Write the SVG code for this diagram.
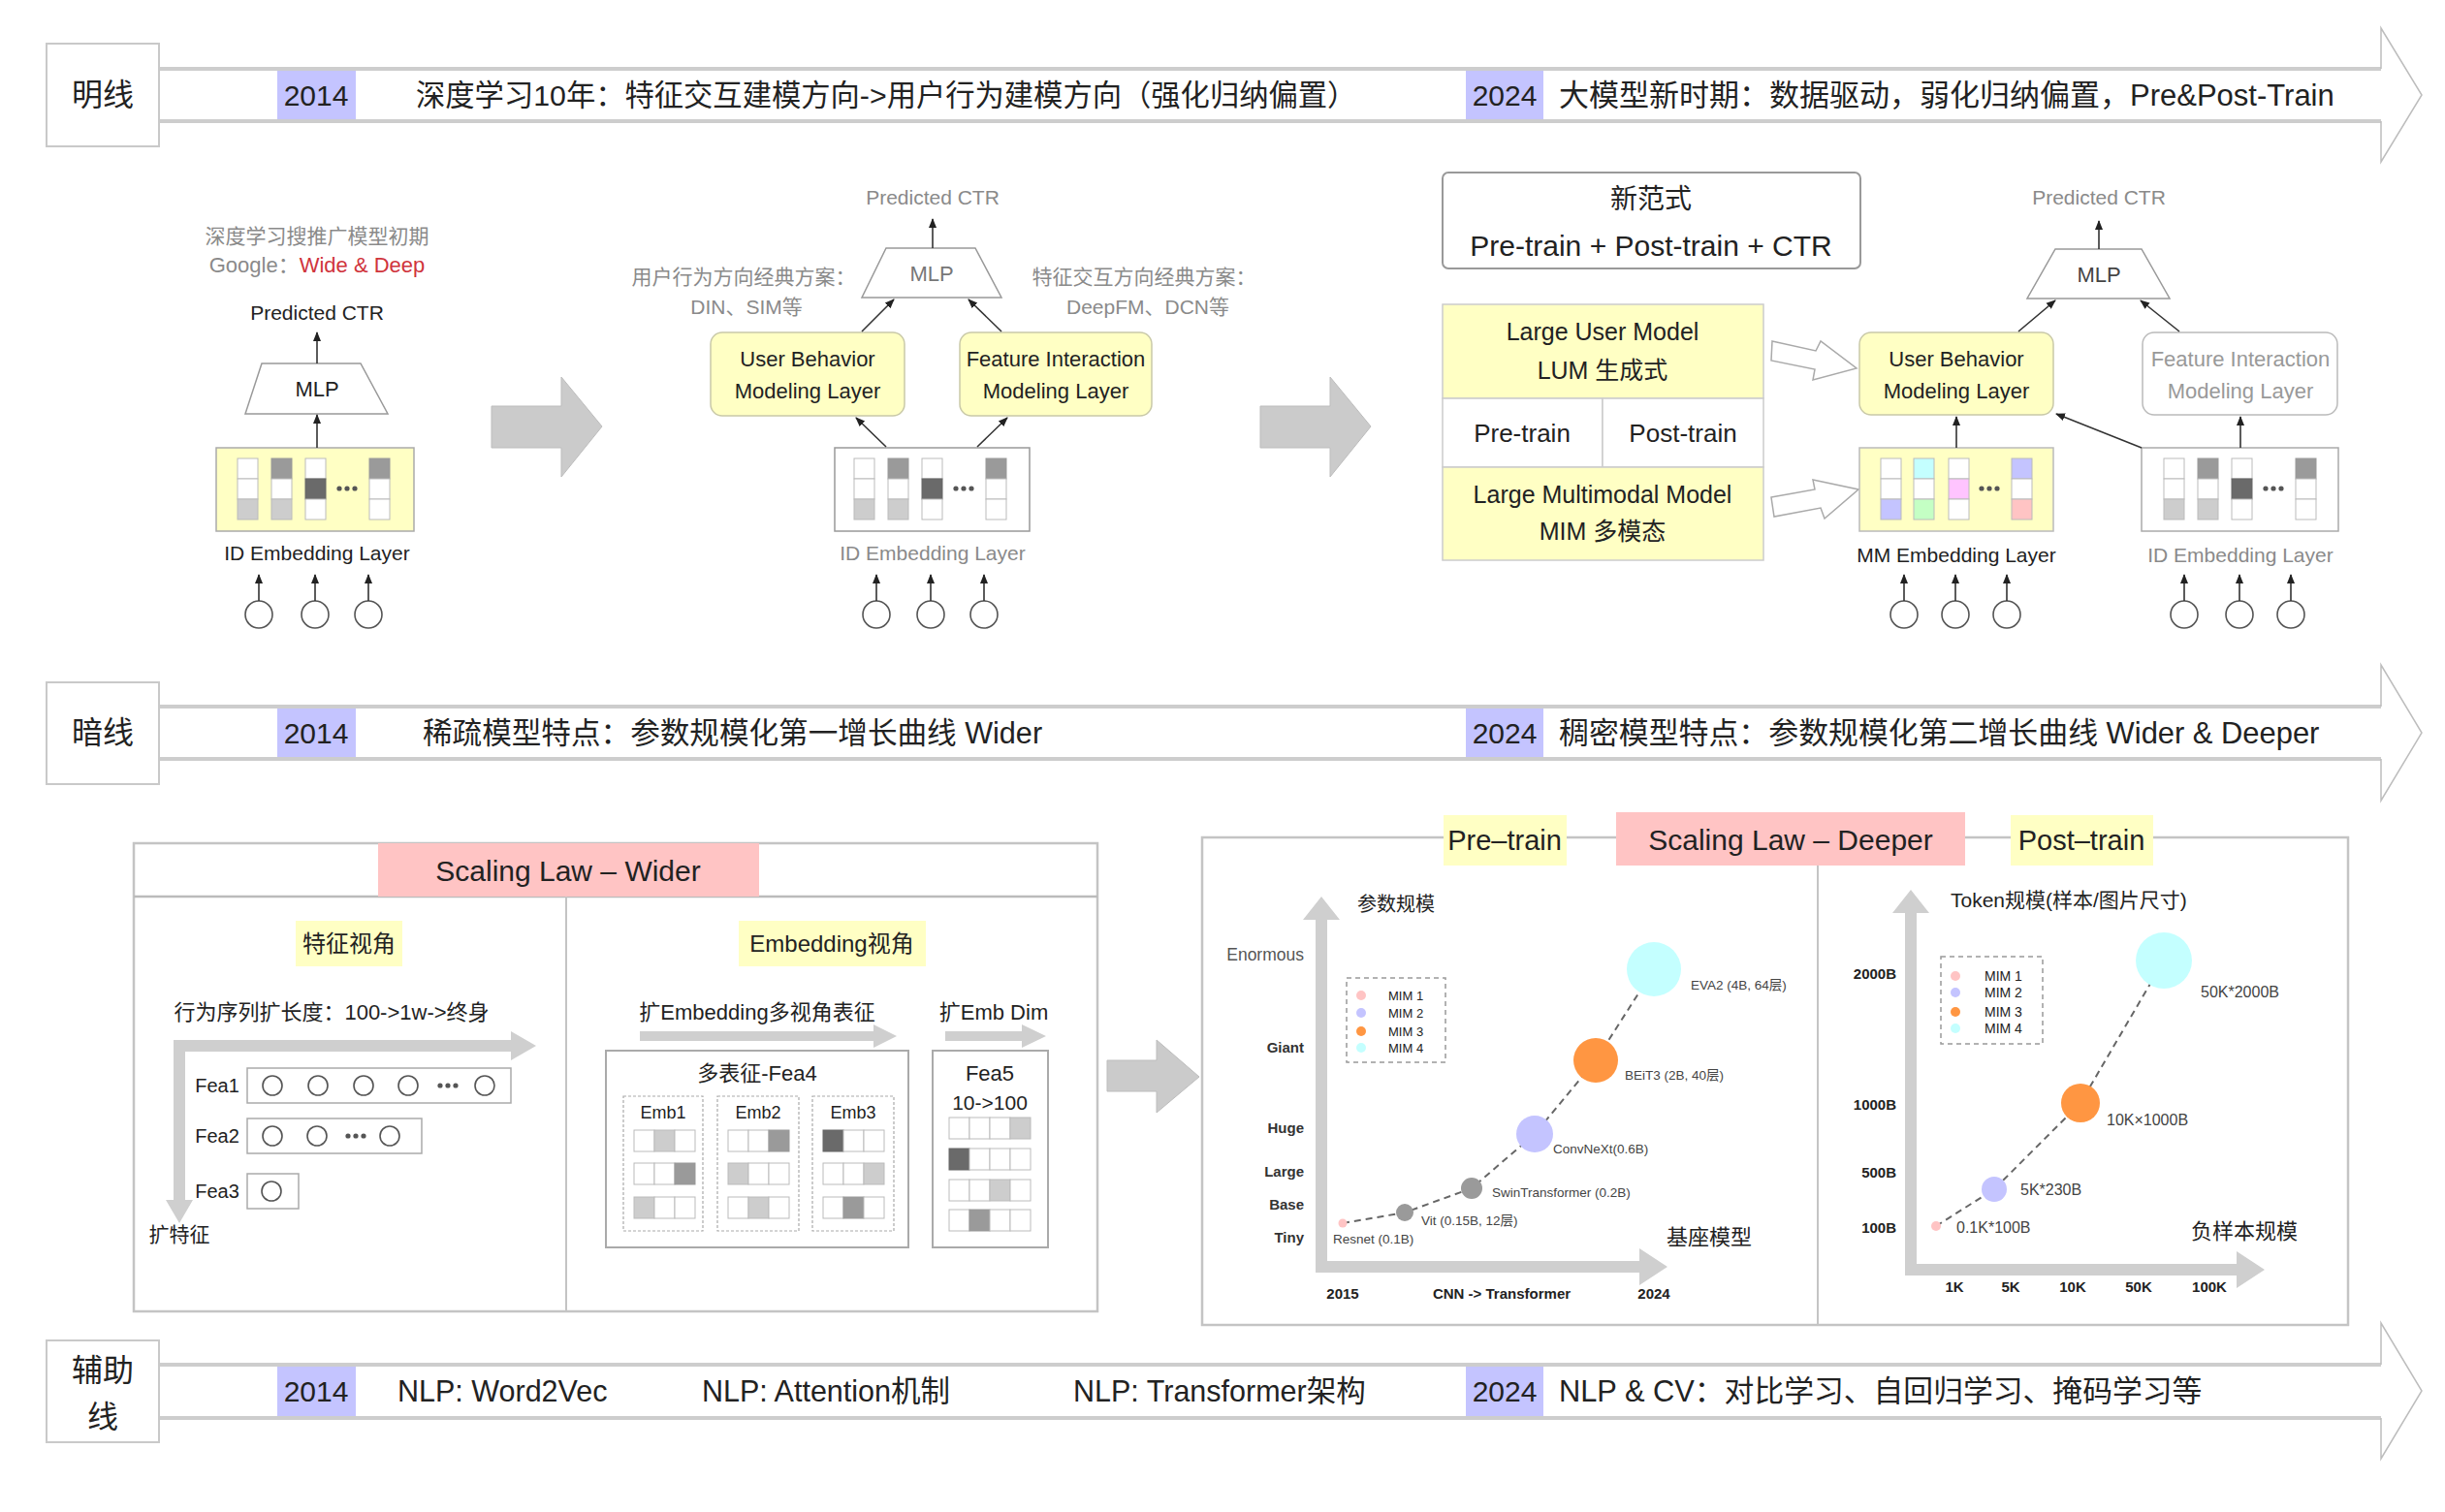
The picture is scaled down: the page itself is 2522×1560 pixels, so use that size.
<svg xmlns="http://www.w3.org/2000/svg" xmlns:xlink="http://www.w3.org/1999/xlink" width="2522" height="1560" viewBox="0 0 2522 1560">
<style>
text { font-family: "Liberation Sans", "Noto Sans CJK SC", sans-serif; dominant-baseline: central; fill: #222; }
.m { text-anchor: middle; }
.e { text-anchor: end; }
.g { fill: #8a8a8a; }
.b { font-weight: bold; }
.band { stroke: #cdcdcd; stroke-width: 4; fill: none; }
.head { stroke: #bdbdbd; stroke-width: 1.5; fill: none; }
.lbox { fill: #fff; stroke: #c9c9c9; stroke-width: 2; }
.yr { fill: #c4c4ff; }
.yl { fill: #ffffc4; }
.pk { fill: #ffc4c4; }
.c0 { fill: #fff; stroke: #bbb; stroke-width: 1; }
.c1 { fill: #cdcdcd; stroke: #bbb; stroke-width: 1; }
.c2 { fill: #9a9a9a; stroke: #999; stroke-width: 1; }
.c3 { fill: #6a6a6a; stroke: #666; stroke-width: 1; }
.big { fill: #cbcbcb; stroke: #bdbdbd; stroke-width: 1; }
.conn line, .conn path { stroke: #333; stroke-width: 1.6; fill: none; marker-end: url(#ah); }
.circ { fill: #fff; stroke: #555; stroke-width: 1.6; }
.trap { fill: #fff; stroke: #999; stroke-width: 1.5; }
.frame { fill: #fff; stroke: #c4c4c4; stroke-width: 2.5; }
.dash { fill: none; stroke: #999; stroke-width: 1.5; stroke-dasharray: 5 4; }
.curve { fill: none; stroke: #666; stroke-width: 2; stroke-dasharray: 7 5; }
.hol { fill: #fff; stroke: #aaa; stroke-width: 1.5; }
</style>
<defs>
<marker id="ah" viewBox="0 0 10 10" refX="9" refY="5" markerWidth="10" markerHeight="10" markerUnits="userSpaceOnUse" orient="auto"><path d="M0,1 L10,5 L0,9 z" fill="#222"/></marker>
<g id="emb">
<rect class="c0" x="22" y="11" width="21" height="21"/><rect class="c0" x="22" y="32" width="21" height="21"/><rect class="c1" x="22" y="53" width="21" height="21"/>
<rect class="c2" x="57" y="11" width="21" height="21"/><rect class="c0" x="57" y="32" width="21" height="21"/><rect class="c1" x="57" y="53" width="21" height="21"/>
<rect class="c0" x="92" y="11" width="21" height="21"/><rect class="c3" x="92" y="32" width="21" height="21"/><rect class="c0" x="92" y="53" width="21" height="21"/>
<circle cx="127" cy="42" r="2.6" fill="#555"/><circle cx="135" cy="42" r="2.6" fill="#555"/><circle cx="143" cy="42" r="2.6" fill="#555"/>
<rect class="c2" x="158" y="11" width="21" height="21"/><rect class="c0" x="158" y="32" width="21" height="21"/><rect class="c0" x="158" y="53" width="21" height="21"/>
</g>
</defs>
<rect width="2522" height="1560" fill="#fff"/>

<!-- Band 1 -->
<g id="band-mingxian">
<line class="band" x1="164" y1="71" x2="2456" y2="71"/>
<line class="band" x1="164" y1="125" x2="2456" y2="125"/>
<polyline class="head" points="2456,71 2456,29 2498,98 2456,167 2456,125"/>
<rect class="lbox" x="48" y="45" width="116" height="106"/>
<text class="m" x="106" y="98" font-size="32">明线</text>
<rect class="yr" x="286" y="73" width="81" height="50"/>
<text class="m" x="326" y="98" font-size="30">2014</text>
<text x="429" y="98" font-size="30.3">深度学习10年：特征交互建模方向-&gt;用户行为建模方向（强化归纳偏置）</text>
<rect class="yr" x="1512" y="73" width="80" height="50"/>
<text class="m" x="1552" y="98" font-size="30">2024</text>
<text x="1608" y="98" font-size="31">大模型新时期：数据驱动，弱化归纳偏置，Pre&amp;Post-Train</text>
</g>

<!-- Band 2 -->
<g id="band-anxian">
<line class="band" x1="164" y1="729" x2="2456" y2="729"/>
<line class="band" x1="164" y1="783" x2="2456" y2="783"/>
<polyline class="head" points="2456,729 2456,686 2498,756 2456,826 2456,783"/>
<rect class="lbox" x="48" y="704" width="116" height="105"/>
<text class="m" x="106" y="756" font-size="32">暗线</text>
<rect class="yr" x="286" y="731" width="81" height="50"/>
<text class="m" x="326" y="756" font-size="30">2014</text>
<text x="436" y="756" font-size="30.6">稀疏模型特点：参数规模化第一增长曲线 Wider</text>
<rect class="yr" x="1512" y="731" width="80" height="50"/>
<text class="m" x="1552" y="756" font-size="30">2024</text>
<text x="1608" y="756" font-size="30.9">稠密模型特点：参数规模化第二增长曲线 Wider &amp; Deeper</text>
</g>

<!-- Band 3 -->
<g id="band-fuzhu">
<line class="band" x1="164" y1="1408" x2="2456" y2="1408"/>
<line class="band" x1="164" y1="1463" x2="2456" y2="1463"/>
<polyline class="head" points="2456,1408 2456,1365 2498,1435 2456,1505 2456,1463"/>
<rect class="lbox" x="48" y="1383" width="116" height="105"/>
<text class="m" x="106" y="1414" font-size="32">辅助</text>
<text class="m" x="106" y="1462" font-size="32">线</text>
<rect class="yr" x="286" y="1410" width="81" height="51"/>
<text class="m" x="326" y="1435" font-size="30">2014</text>
<text x="410" y="1435" font-size="30.5">NLP: Word2Vec</text>
<text x="724" y="1435" font-size="30.5">NLP: Attention机制</text>
<text x="1107" y="1435" font-size="30.5">NLP: Transformer架构</text>
<rect class="yr" x="1512" y="1410" width="80" height="51"/>
<text class="m" x="1552" y="1435" font-size="30">2024</text>
<text x="1608" y="1435" font-size="30.8">NLP &amp; CV：对比学习、自回归学习、掩码学习等</text>
</g>

<!-- Panel 1: Wide & Deep -->
<g id="p1-caption">
<text class="m g" x="327" y="243" font-size="21">深度学习搜推广模型初期</text>
<text class="m" x="327" y="273" font-size="22"><tspan fill="#8a8a8a">Google：</tspan><tspan fill="#d0343c">Wide &amp; Deep</tspan></text>
</g>
<g id="p1-ctr"><text class="m" x="327" y="322" font-size="21">Predicted CTR</text></g>
<g id="p1-mlp"><polygon class="trap" points="270,375 372,375 400,427 253,427"/><text class="m" x="327" y="401" font-size="22">MLP</text></g>
<g id="p1-emb">
<rect x="223" y="462" width="204" height="86" fill="#ffffc4" stroke="#aaa" stroke-width="1.5"/>
<use xlink:href="#emb" href="#emb" transform="translate(223,462)"/>
<text class="m" x="327" y="570" font-size="21">ID Embedding Layer</text>
</g>
<g id="p1-inputs"><circle class="circ" cx="267" cy="634" r="14"/><circle class="circ" cx="325" cy="634" r="14"/><circle class="circ" cx="380" cy="634" r="14"/></g>

<g id="bigarrow-1"><polygon class="big" points="507,419 579,419 579,389 621,440 579,492 579,462 507,462"/></g>
<g id="bigarrow-2"><polygon class="big" points="1300,419 1372,419 1372,389 1414,440 1372,492 1372,462 1300,462"/></g>

<!-- Panel 2 -->
<g id="p2-ctr"><text class="m g" x="962" y="203" font-size="21">Predicted CTR</text></g>
<g id="p2-mlp"><polygon class="trap" points="914,256 1006,256 1033,307 889,307"/><text class="m" x="961" y="282" font-size="22" style="fill:#777">MLP</text></g>
<g id="p2-notes">
<text class="m g" x="767" y="285" font-size="21">用户行为方向经典方案：</text>
<text class="m g" x="770" y="316" font-size="21">DIN、SIM等</text>
<text class="m g" x="1180" y="285" font-size="21">特征交互方向经典方案：</text>
<text class="m g" x="1184" y="316" font-size="21">DeepFM、DCN等</text>
</g>
<g id="p2-ub"><rect x="733" y="343" width="200" height="86" rx="12" fill="#ffffc4" stroke="#c9c9a8" stroke-width="1.5"/>
<text class="m" x="833" y="370" font-size="22">User Behavior</text><text class="m" x="833" y="403" font-size="22">Modeling Layer</text></g>
<g id="p2-fi"><rect x="990" y="343" width="198" height="86" rx="12" fill="#ffffc4" stroke="#c9c9a8" stroke-width="1.5"/>
<text class="m" x="1089" y="370" font-size="22">Feature Interaction</text><text class="m" x="1089" y="403" font-size="22">Modeling Layer</text></g>
<g id="p2-emb">
<rect x="861" y="462" width="201" height="86" fill="#fff" stroke="#999" stroke-width="1.5"/>
<use xlink:href="#emb" href="#emb" transform="translate(859,462)"/>
<text class="m g" x="962" y="570" font-size="21">ID Embedding Layer</text>
</g>
<g id="p2-inputs"><circle class="circ" cx="904" cy="634" r="14"/><circle class="circ" cx="960" cy="634" r="14"/><circle class="circ" cx="1015" cy="634" r="14"/></g>

<!-- Panel 3 -->
<g id="p3-paradigm"><rect x="1488" y="178" width="431" height="99" rx="6" fill="#fff" stroke="#999" stroke-width="2"/>
<text class="m" x="1703" y="205" font-size="28">新范式</text>
<text class="m" x="1703" y="253" font-size="30">Pre-train + Post-train + CTR</text></g>
<g id="p3-lum"><rect x="1488" y="314" width="331" height="97" fill="#ffffc4" stroke="#ccc" stroke-width="1.5"/>
<text class="m" x="1653" y="342" font-size="25">Large User Model</text><text class="m" x="1653" y="382" font-size="25">LUM 生成式</text></g>
<g id="p3-pretrain"><rect x="1488" y="411" width="165" height="71" fill="#fff" stroke="#ccc" stroke-width="1.5"/><text class="m" x="1570" y="447" font-size="26">Pre-train</text></g>
<g id="p3-posttrain"><rect x="1653" y="411" width="166" height="71" fill="#fff" stroke="#ccc" stroke-width="1.5"/><text class="m" x="1736" y="447" font-size="26">Post-train</text></g>
<g id="p3-mim"><rect x="1488" y="482" width="331" height="96" fill="#ffffc4" stroke="#ccc" stroke-width="1.5"/>
<text class="m" x="1653" y="510" font-size="25">Large Multimodal Model</text><text class="m" x="1653" y="548" font-size="25">MIM 多模态</text></g>
<g id="p3-hollow-1"><polygon class="hol" points="1828,352 1873,362 1878,352 1915,380 1870,392 1872,381 1827,372"/></g>
<g id="p3-hollow-2"><polygon class="hol" points="1827,513 1872,505 1870,495 1917,505 1882,535 1878,524 1830,533"/></g>
<g id="p3-ctr"><text class="m g" x="2165" y="203" font-size="21">Predicted CTR</text></g>
<g id="p3-mlp"><polygon class="trap" points="2120,257 2209,257 2238,308 2091,308"/><text class="m" x="2165" y="283" font-size="22" style="fill:#444">MLP</text></g>
<g id="p3-ub"><rect x="1918" y="343" width="200" height="85" rx="12" fill="#ffffc4" stroke="#c9c9a8" stroke-width="1.5"/>
<text class="m" x="2018" y="370" font-size="22">User Behavior</text><text class="m" x="2018" y="403" font-size="22">Modeling Layer</text></g>
<g id="p3-fi"><rect x="2210" y="343" width="201" height="85" rx="12" fill="#fff" stroke="#bbb" stroke-width="1.5"/>
<text class="m" x="2311" y="370" font-size="22" style="fill:#999">Feature Interaction</text><text class="m" x="2311" y="403" font-size="22" style="fill:#999">Modeling Layer</text></g>
<g id="p3-mm-emb">
<rect x="1918" y="462" width="200" height="86" fill="#ffffc4" stroke="#bbb" stroke-width="1.5"/>
<rect class="c0" x="1940" y="473" width="21" height="21"/><rect class="c0" x="1940" y="494" width="21" height="21"/><rect x="1940" y="515" width="21" height="21" fill="#c4c4ff" stroke="#bbb"/>
<rect x="1974" y="473" width="21" height="21" fill="#c4ffff" stroke="#bbb"/><rect class="c0" x="1974" y="494" width="21" height="21"/><rect x="1974" y="515" width="21" height="21" fill="#c4ffc4" stroke="#bbb"/>
<rect class="c0" x="2010" y="473" width="21" height="21"/><rect x="2010" y="494" width="21" height="21" fill="#ffc4ff" stroke="#bbb"/><rect class="c0" x="2010" y="515" width="21" height="21"/>
<circle cx="2044" cy="504" r="2.6" fill="#555"/><circle cx="2052" cy="504" r="2.6" fill="#555"/><circle cx="2060" cy="504" r="2.6" fill="#555"/>
<rect x="2075" y="473" width="21" height="21" fill="#c4c4ff" stroke="#bbb"/><rect class="c0" x="2075" y="494" width="21" height="21"/><rect x="2075" y="515" width="21" height="21" fill="#ffc4c4" stroke="#bbb"/>
<text class="m" x="2018" y="572" font-size="21">MM Embedding Layer</text>
</g>
<g id="p3-id-emb">
<rect x="2209" y="462" width="203" height="86" fill="#fff" stroke="#aaa" stroke-width="1.5"/>
<use xlink:href="#emb" href="#emb" transform="translate(2210,462)"/>
<text class="m g" x="2311" y="572" font-size="21">ID Embedding Layer</text>
</g>
<g id="p3-inputs"><circle class="circ" cx="1964" cy="634" r="14"/><circle class="circ" cx="2017" cy="634" r="14"/><circle class="circ" cx="2070" cy="634" r="14"/>
<circle class="circ" cx="2253" cy="634" r="14"/><circle class="circ" cx="2310" cy="634" r="14"/><circle class="circ" cx="2363" cy="634" r="14"/></g>

<!-- Bottom left: Scaling Law - Wider -->
<g id="wider-panel">
<rect class="frame" x="138" y="870" width="994" height="483"/>
<line x1="138" y1="925" x2="1132" y2="925" stroke="#bbb" stroke-width="2.5"/>
<line x1="584" y1="925" x2="584" y2="1353" stroke="#c4c4c4" stroke-width="2"/>
<rect class="pk" x="390" y="870" width="393" height="55"/>
<text class="m" x="586" y="898" font-size="30">Scaling Law – Wider</text>
</g>
<g id="feature-view">
<rect class="yl" x="305" y="950" width="110" height="47"/>
<text class="m" x="360" y="973" font-size="24">特征视角</text>
<text class="m" x="342" y="1044" font-size="22">行为序列扩长度：100-&gt;1w-&gt;终身</text>
<path d="M179,1073 L527,1073 L527,1064 L553,1079 L527,1094 L527,1085 L191,1085 L191,1238 L199,1238 L185,1262 L171,1238 L179,1238 Z" fill="#cfcfcf"/>
<text class="m" x="185" y="1273" font-size="21">扩特征</text>
</g>
<g id="fea1"><text class="m" x="224" y="1120" font-size="20">Fea1</text>
<rect x="255" y="1102" width="272" height="36" fill="#fff" stroke="#aaa" stroke-width="1.5"/>
<circle class="circ" cx="281" cy="1120" r="10"/><circle class="circ" cx="328" cy="1120" r="10"/><circle class="circ" cx="375" cy="1120" r="10"/><circle class="circ" cx="421" cy="1120" r="10"/>
<circle cx="454" cy="1120" r="2.6" fill="#555"/><circle cx="462" cy="1120" r="2.6" fill="#555"/><circle cx="470" cy="1120" r="2.6" fill="#555"/>
<circle class="circ" cx="500" cy="1120" r="10"/></g>
<g id="fea2"><text class="m" x="224" y="1172" font-size="20">Fea2</text>
<rect x="255" y="1154" width="180" height="36" fill="#fff" stroke="#aaa" stroke-width="1.5"/>
<circle class="circ" cx="281" cy="1172" r="10"/><circle class="circ" cx="327" cy="1172" r="10"/>
<circle cx="359" cy="1172" r="2.6" fill="#555"/><circle cx="367" cy="1172" r="2.6" fill="#555"/><circle cx="375" cy="1172" r="2.6" fill="#555"/>
<circle class="circ" cx="402" cy="1172" r="10"/></g>
<g id="fea3"><text class="m" x="224" y="1229" font-size="20">Fea3</text>
<rect x="255" y="1211" width="53" height="36" fill="#fff" stroke="#aaa" stroke-width="1.5"/>
<circle class="circ" cx="280" cy="1229" r="10"/></g>

<g id="embedding-view">
<rect class="yl" x="762" y="950" width="193" height="47"/>
<text class="m" x="858" y="973" font-size="24">Embedding视角</text>
<text class="m" x="781" y="1044" font-size="22">扩Embedding多视角表征</text>
<polygon points="660,1064 901,1064 901,1057 925,1069 901,1081 901,1074 660,1074" fill="#cfcfcf"/>
<text class="m" x="1025" y="1044" font-size="22">扩Emb Dim</text>
<polygon points="975,1064 1054,1064 1054,1057 1079,1069 1054,1081 1054,1074 975,1074" fill="#cfcfcf"/>
</g>
<g id="fea4">
<rect x="625" y="1084" width="312" height="203" fill="#fff" stroke="#aaa" stroke-width="2"/>
<text class="m" x="781" y="1107" font-size="22">多表征-Fea4</text>
<rect x="643" y="1131" width="82" height="139" fill="none" stroke="#aaa" stroke-width="1.2" stroke-dasharray="3 2"/>
<rect x="740" y="1131" width="84" height="139" fill="none" stroke="#aaa" stroke-width="1.2" stroke-dasharray="3 2"/>
<rect x="838" y="1131" width="84" height="139" fill="none" stroke="#aaa" stroke-width="1.2" stroke-dasharray="3 2"/>
<text class="m" x="684" y="1148" font-size="18">Emb1</text>
<text class="m" x="782" y="1148" font-size="18">Emb2</text>
<text class="m" x="880" y="1148" font-size="18">Emb3</text>
<rect class="c0" x="654" y="1166" width="21" height="22"/><rect class="c1" x="675" y="1166" width="21" height="22"/><rect class="c0" x="696" y="1166" width="21" height="22"/>
<rect class="c0" x="654" y="1200" width="21" height="22"/><rect class="c0" x="675" y="1200" width="21" height="22"/><rect class="c2" x="696" y="1200" width="21" height="22"/>
<rect class="c1" x="654" y="1235" width="21" height="22"/><rect class="c0" x="675" y="1235" width="21" height="22"/><rect class="c0" x="696" y="1235" width="21" height="22"/>
<rect class="c0" x="751" y="1166" width="21" height="22"/><rect class="c0" x="772" y="1166" width="21" height="22"/><rect class="c2" x="793" y="1166" width="21" height="22"/>
<rect class="c1" x="751" y="1200" width="21" height="22"/><rect class="c0" x="772" y="1200" width="21" height="22"/><rect class="c0" x="793" y="1200" width="21" height="22"/>
<rect class="c0" x="751" y="1235" width="21" height="22"/><rect class="c1" x="772" y="1235" width="21" height="22"/><rect class="c0" x="793" y="1235" width="21" height="22"/>
<rect class="c3" x="849" y="1166" width="21" height="22"/><rect class="c0" x="870" y="1166" width="21" height="22"/><rect class="c0" x="891" y="1166" width="21" height="22"/>
<rect class="c0" x="849" y="1200" width="21" height="22"/><rect class="c0" x="870" y="1200" width="21" height="22"/><rect class="c1" x="891" y="1200" width="21" height="22"/>
<rect class="c0" x="849" y="1235" width="21" height="22"/><rect class="c2" x="870" y="1235" width="21" height="22"/><rect class="c0" x="891" y="1235" width="21" height="22"/>
</g>
<g id="fea5">
<rect x="962" y="1084" width="119" height="203" fill="#fff" stroke="#aaa" stroke-width="2"/>
<text class="m" x="1021" y="1107" font-size="22">Fea5</text>
<text class="m" x="1021" y="1137" font-size="21">10-&gt;100</text>
<rect class="c0" x="979" y="1153" width="21" height="22"/><rect class="c0" x="1000" y="1153" width="21" height="22"/><rect class="c0" x="1021" y="1153" width="21" height="22"/><rect class="c1" x="1042" y="1153" width="21" height="22"/>
<rect class="c3" x="979" y="1185" width="21" height="22"/><rect class="c0" x="1000" y="1185" width="21" height="22"/><rect class="c0" x="1021" y="1185" width="21" height="22"/><rect class="c0" x="1042" y="1185" width="21" height="22"/>
<rect class="c0" x="979" y="1217" width="21" height="22"/><rect class="c0" x="1000" y="1217" width="21" height="22"/><rect class="c1" x="1021" y="1217" width="21" height="22"/><rect class="c0" x="1042" y="1217" width="21" height="22"/>
<rect class="c0" x="979" y="1248" width="21" height="22"/><rect class="c2" x="1000" y="1248" width="21" height="22"/><rect class="c0" x="1021" y="1248" width="21" height="22"/><rect class="c0" x="1042" y="1248" width="21" height="22"/>
</g>

<g id="bigarrow-3"><polygon class="big" points="1142,1094 1193,1094 1193,1073 1237,1111 1193,1148 1193,1126 1142,1126"/></g>

<!-- Bottom right: Scaling Law - Deeper -->
<g id="deeper-panel">
<rect class="frame" x="1240" y="864" width="1182" height="503"/>
<line x1="1875" y1="893" x2="1875" y2="1367" stroke="#c4c4c4" stroke-width="2"/>
<rect class="yl" x="1489" y="841" width="127" height="52"/>
<text class="m" x="1552" y="867" font-size="29">Pre–train</text>
<rect class="pk" x="1667" y="838" width="360" height="55"/>
<text class="m" x="1847" y="866" font-size="30">Scaling Law – Deeper</text>
<rect class="yl" x="2074" y="841" width="147" height="52"/>
<text class="m" x="2147" y="867" font-size="29">Post–train</text>
</g>
<g id="chart-pretrain">
<path d="M1357,1313 L1357,949 L1344,949 L1363,925 L1382,949 L1369,949 L1369,1301 L1691,1301 L1691,1288 L1720,1307 L1691,1326 L1691,1313 Z" fill="#cfcfcf"/>
<text class="m" x="1440" y="933" font-size="20">参数规模</text>
<text class="e" x="1345" y="985" font-size="17.5" style="fill:#555">Enormous</text>
<text class="e b" x="1345" y="1080" font-size="15" style="fill:#333">Giant</text>
<text class="e b" x="1345" y="1163" font-size="15" style="fill:#333">Huge</text>
<text class="e b" x="1345" y="1208" font-size="15" style="fill:#333">Large</text>
<text class="e b" x="1345" y="1242" font-size="15" style="fill:#333">Base</text>
<text class="e b" x="1345" y="1276" font-size="15" style="fill:#333">Tiny</text>
<text class="m b" x="1385" y="1334" font-size="15">2015</text>
<text class="m b" x="1549" y="1334" font-size="15">CNN  -&gt; Transformer</text>
<text class="m b" x="1706" y="1334" font-size="15">2024</text>
<text class="m" x="1763" y="1276" font-size="22">基座模型</text>
<rect class="dash" x="1389" y="1009" width="102" height="87"/>
<circle cx="1404" cy="1027" r="5" fill="#ffc4c4"/><circle cx="1404" cy="1045" r="5" fill="#c4c4ff"/><circle cx="1404" cy="1064" r="5" fill="#ff9642"/><circle cx="1404" cy="1081" r="5" fill="#c4ffff"/>
<text x="1432" y="1027" font-size="13">MIM 1</text><text x="1432" y="1045" font-size="13">MIM 2</text><text x="1432" y="1064" font-size="13">MIM 3</text><text x="1432" y="1081" font-size="13">MIM 4</text>
<path class="curve" d="M1385,1262 L1449,1251 L1518,1226 L1583,1170 L1646,1094 L1706,1000"/>
<circle cx="1385" cy="1262" r="4.5" fill="#ffc4c4"/>
<circle cx="1449" cy="1251" r="9" fill="#9a9a9a"/>
<circle cx="1518" cy="1226" r="11" fill="#9a9a9a"/>
<circle cx="1583" cy="1170" r="19" fill="#c4c4ff"/>
<circle cx="1646" cy="1094" r="23" fill="#ff9642"/>
<circle cx="1706" cy="1000" r="28" fill="#c4ffff"/>
<text x="1375" y="1278" font-size="13.5" style="fill:#444">Resnet (0.1B)</text>
<text x="1466" y="1259" font-size="13.5" style="fill:#444">Vit (0.15B, 12层)</text>
<text x="1539" y="1230" font-size="13.5" style="fill:#444">SwinTransformer (0.2B)</text>
<text x="1602" y="1185" font-size="13.5" style="fill:#444">ConvNeXt(0.6B)</text>
<text x="1676" y="1109" font-size="13.5" style="fill:#444">BEiT3 (2B, 40层)</text>
<text x="1744" y="1016" font-size="13.5" style="fill:#444">EVA2 (4B, 64层)</text>
</g>
<g id="chart-posttrain">
<path d="M1965,1316 L1965,942 L1952,942 L1971,918 L1990,942 L1977,942 L1977,1304 L2307,1304 L2307,1291 L2336,1310 L2307,1329 L2307,1316 Z" fill="#cfcfcf"/>
<text x="2012" y="928" font-size="21">Token规模(样本/图片尺寸)</text>
<text class="e b" x="1956" y="1004" font-size="15">2000B</text>
<text class="e b" x="1956" y="1139" font-size="15">1000B</text>
<text class="e b" x="1956" y="1209" font-size="15">500B</text>
<text class="e b" x="1956" y="1266" font-size="15">100B</text>
<text class="m b" x="2016" y="1327" font-size="15">1K</text>
<text class="m b" x="2074" y="1327" font-size="15">5K</text>
<text class="m b" x="2138" y="1327" font-size="15">10K</text>
<text class="m b" x="2206" y="1327" font-size="15">50K</text>
<text class="m b" x="2279" y="1327" font-size="15">100K</text>
<text class="m" x="2315" y="1270" font-size="22">负样本规模</text>
<rect class="dash" x="2002" y="987" width="105" height="90"/>
<circle cx="2017" cy="1007" r="5" fill="#ffc4c4"/><circle cx="2017" cy="1024" r="5" fill="#c4c4ff"/><circle cx="2017" cy="1044" r="5" fill="#ff9642"/><circle cx="2017" cy="1061" r="5" fill="#c4ffff"/>
<text x="2047" y="1007" font-size="14">MIM 1</text><text x="2047" y="1024" font-size="14">MIM 2</text><text x="2047" y="1044" font-size="14">MIM 3</text><text x="2047" y="1061" font-size="14">MIM 4</text>
<path class="curve" d="M1997,1265 L2057,1227 L2146,1138 L2232,991"/>
<circle cx="1997" cy="1265" r="5" fill="#ffc4c4"/>
<circle cx="2057" cy="1227" r="13" fill="#c4c4ff"/>
<circle cx="2146" cy="1138" r="20" fill="#ff9642"/>
<circle cx="2232" cy="991" r="29" fill="#c4ffff"/>
<text x="2018" y="1266" font-size="16" style="fill:#444">0.1K*100B</text>
<text x="2084" y="1227" font-size="16" style="fill:#444">5K*230B</text>
<text x="2173" y="1155" font-size="16" style="fill:#444">10K×1000B</text>
<text x="2270" y="1023" font-size="16" style="fill:#444">50K*2000B</text>
</g>

<!-- Connectors -->
<g id="connectors" class="conn">
<line x1="327" y1="375" x2="327" y2="343"/>
<line x1="327" y1="462" x2="327" y2="428"/>
<line x1="267" y1="620" x2="267" y2="593"/>
<line x1="325" y1="620" x2="325" y2="593"/>
<line x1="380" y1="620" x2="380" y2="593"/>
<line x1="962" y1="256" x2="962" y2="226"/>
<line x1="889" y1="342" x2="922" y2="309"/>
<line x1="1033" y1="342" x2="999" y2="309"/>
<line x1="914" y1="461" x2="883" y2="431"/>
<line x1="1008" y1="461" x2="1039" y2="431"/>
<line x1="904" y1="620" x2="904" y2="593"/>
<line x1="960" y1="620" x2="960" y2="593"/>
<line x1="1015" y1="620" x2="1015" y2="593"/>
<line x1="2165" y1="257" x2="2165" y2="228"/>
<line x1="2082" y1="342" x2="2120" y2="310"/>
<line x1="2248" y1="342" x2="2208" y2="310"/>
<line x1="2018" y1="462" x2="2018" y2="430"/>
<line x1="2311" y1="462" x2="2311" y2="430"/>
<line x1="2209" y1="462" x2="2121" y2="427"/>
<line x1="1964" y1="620" x2="1964" y2="593"/>
<line x1="2017" y1="620" x2="2017" y2="593"/>
<line x1="2070" y1="620" x2="2070" y2="593"/>
<line x1="2253" y1="620" x2="2253" y2="593"/>
<line x1="2310" y1="620" x2="2310" y2="593"/>
<line x1="2363" y1="620" x2="2363" y2="593"/>
</g>
</svg>
